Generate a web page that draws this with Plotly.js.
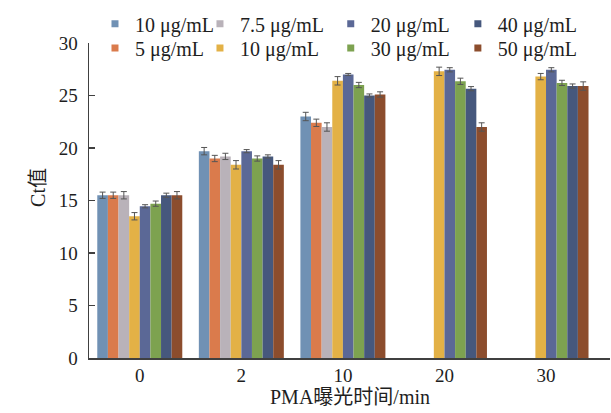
<!DOCTYPE html>
<html>
<head>
<meta charset="utf-8">
<script src="https://cdn.plot.ly/plotly-3.0.1.min.js"></script>
<style>html,body{margin:0;padding:0;background:#fff;}#chart{width:611px;height:413px;}</style>
</head>
<body>
<div id="chart"></div>
<script>
// Categories (PMA exposure time, min)
const categories = ['0', '2', '10', '20', '30'];

// Series names (legend labels) in bar order within each group
const seriesNames = ['10 μg/mL', '5 μg/mL', '7.5 μg/mL', '10 μg/mL', '20 μg/mL', '30 μg/mL', '40 μg/mL', '50 μg/mL'];

// Ct values
const s10a = [15.5, 19.7, 23.0, null, null];
const s5   = [15.5, 19.0, 22.4, null, null];
const s7_5 = [15.5, 19.2, 22.0, null, null];
const s10b = [13.5, 18.4, 26.4, 27.3, 26.8];
const s20  = [14.45, 19.7, 27.0, 27.45, 27.45];
const s30  = [14.7, 19.0, 26.0, 26.35, 26.2];
const s40  = [15.5, 19.2, 25.0, 25.65, 25.9];
const s50  = [15.5, 18.4, 25.1, 22.0, 25.9];

// Error bar half-widths
const e10a = [0.3, 0.35, 0.4, null, null];
const e5   = [0.3, 0.3, 0.35, null, null];
const e7_5 = [0.35, 0.3, 0.4, null, null];
const e10b = [0.35, 0.4, 0.4, 0.4, 0.3];
const e20  = [0.15, 0.15, 0.1, 0.2, 0.2];
const e30  = [0.25, 0.25, 0.25, 0.3, 0.25];
const e40  = [0.2, 0.15, 0.15, 0.2, 0.2];
const e50  = [0.35, 0.4, 0.25, 0.4, 0.4];

const values = [s10a, s5, s7_5, s10b, s20, s30, s40, s50];
const errors = [e10a, e5, e7_5, e10b, e20, e30, e40, e50];
const colors = ['#7091B4', '#DA7B4C', '#B9B2B9', '#E3B146', '#5B6896', '#7DA250', '#46587D', '#8C4D2D'];

const FONT = 'Liberation Serif, Times New Roman, Noto Sans CJK SC, serif';
const TXT = '#1e1e1e';

// legend placement: 2 rows x 4 columns (column-major)
const legX = [0.0115, 0.0115, 0.213, 0.213, 0.464, 0.464, 0.708, 0.708];
const legY = [1.123, 1.046, 1.123, 1.046, 1.123, 1.046, 1.123, 1.046];

const traces = [];
values.forEach((v, i) => {
  traces.push({
    type: 'bar', x: categories, y: v, name: seriesNames[i],
    marker: {color: colors[i], line: {width: 0}},
    error_y: {type: 'data', array: errors[i], visible: true, color: '#555555', thickness: 1, width: 3},
    showlegend: false, legendgroup: 'g' + i, hoverinfo: 'skip'
  });
});
values.forEach((v, i) => {
  traces.push({
    type: 'scatter', mode: 'markers', x: [null], y: [null], name: seriesNames[i],
    marker: {color: colors[i], symbol: 'square', size: 7},
    showlegend: true, legend: i === 0 ? 'legend' : 'legend' + (i + 1), legendgroup: 'g' + i
  });
});

const layout = {
  width: 611, height: 413,
  margin: {l: 89, r: 1, t: 43, b: 55},
  paper_bgcolor: '#fff', plot_bgcolor: '#fff',
  font: {family: FONT, size: 19, color: TXT},
  barmode: 'group', bargap: 0.163, bargroupgap: 0,
  showlegend: true,
  xaxis: {
    type: 'category', range: [-0.5, 4.63], showline: true, linecolor: '#404040', linewidth: 1.5,
    ticks: '', showgrid: false, zeroline: false,
    tickfont: {family: FONT, size: 19, color: TXT}
  },
  yaxis: {
    range: [0, 30], dtick: 5, showline: true, linecolor: '#404040', linewidth: 1.5,
    ticks: 'inside', ticklen: 6, tickcolor: '#404040', tickwidth: 1.5,
    showgrid: false, zeroline: false, ticklabelstandoff: 6,
    tickfont: {family: FONT, size: 19, color: TXT}
  },
  annotations: [{
    text: 'Ct值', xref: 'paper', yref: 'paper', x: -0.098, y: 0.543,
    xanchor: 'center', yanchor: 'middle', textangle: -90, showarrow: false,
    font: {family: FONT, size: 20, color: TXT}
  }, {
    text: 'PMA曝光时间/min', xref: 'paper', yref: 'paper', x: 0.5, y: -0.124,
    xanchor: 'center', yanchor: 'middle', showarrow: false,
    font: {family: FONT, size: 20, color: TXT}
  }]
};
for (let i = 0; i < 8; i++) {
  const key = i === 0 ? 'legend' : 'legend' + (i + 1);
  layout[key] = {orientation: 'v', yanchor: 'top', y: legY[i], xanchor: 'left', x: legX[i],
    bgcolor: 'rgba(0,0,0,0)', font: {family: FONT, size: 20, color: TXT}, borderwidth: 0};
}

Plotly.newPlot('chart', traces, layout, {displayModeBar: false, staticPlot: true});
</script>
</body>
</html>
